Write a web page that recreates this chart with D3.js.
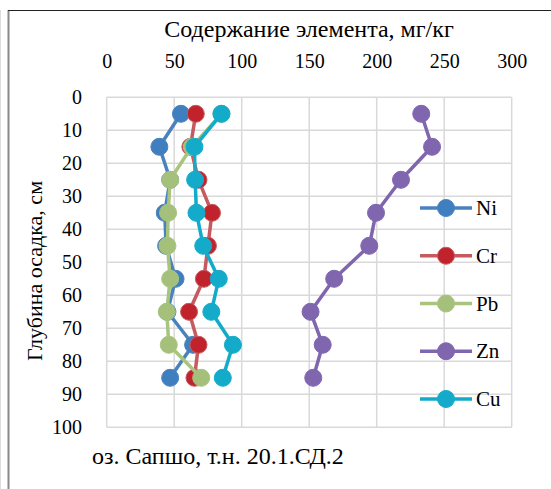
<!DOCTYPE html>
<html><head><meta charset="utf-8">
<script src="https://cdn.jsdelivr.net/npm/d3@7/dist/d3.min.js"></script>
<style>body{margin:0;background:#fff}svg{display:block}</style>
</head><body><svg id="c" width="551" height="489"></svg>
<script>
const depths = [5, 15, 25, 35, 45, 55, 65, 75, 85];
const seriesNames = ["Ni", "Cr", "Pb", "Zn", "Cu"];
const ni = [55, 39, 47, 43, 44, 51, 45, 64, 47];
const cr = [66, 62, 68, 78, 75, 72, 61, 68, 65];
const pb = [85, 63, 47, 45.5, 45, 47, 44.5, 46, 70];
const zn = [233, 241, 218, 199.5, 194.5, 168.5, 151, 160, 153];
const cu = [85, 65, 65.5, 66.5, 71.5, 83, 77.5, 93.5, 86];
const xTicks = [0, 50, 100, 150, 200, 250, 300];
const yTicks = [0, 10, 20, 30, 40, 50, 60, 70, 80, 90, 100];
const colors = ["#3f7fbf", "#c0232c", "#a5c07a", "#8066ae", "#13abc9"];
const lineColors = ["#4a82be", "#c55a5f", "#a9c47f", "#8066ae", "#13abc9"];

const FONT = "'Liberation Serif', 'Times New Roman', Tinos, 'DejaVu Serif', serif";
const svg = d3.select("#c").style("font-family", FONT);
const L = 106.7, R = 511.7, T = 97.3, B = 427.3;
const x = d3.scaleLinear().domain([0, 300]).range([L, R]);
const y = d3.scaleLinear().domain([0, 100]).range([T, B]);

// outer frame
svg.append("line").attr("x1", 0.5).attr("x2", 0.5).attr("y1", 10).attr("y2", 489).attr("stroke", "#ddd").attr("stroke-width", 1);
svg.append("line").attr("x1", 8.5).attr("x2", 8.5).attr("y1", 10).attr("y2", 489).attr("stroke", "#8a8a8a").attr("stroke-width", 2);
svg.append("line").attr("x1", 8).attr("x2", 551).attr("y1", 10.5).attr("y2", 10.5).attr("stroke", "#222").attr("stroke-width", 1);

// grid
const g = svg.append("g");
g.selectAll(".vg").data(xTicks).join("line")
  .attr("x1", d => x(d)).attr("x2", d => x(d)).attr("y1", T).attr("y2", B)
  .attr("stroke", "#d9d9d9").attr("stroke-width", 1.5);
g.selectAll(".hg").data(yTicks).join("line")
  .attr("x1", L).attr("x2", R).attr("y1", d => y(d)).attr("y2", d => y(d))
  .attr("stroke", "#d9d9d9").attr("stroke-width", 1.5);

// axes labels
const xAxis = d3.axisTop(x).tickValues(xTicks).tickSize(0).tickPadding(0);
const xa = svg.append("g").attr("transform", `translate(0,68)`).call(xAxis)
  .attr("font-family", FONT).attr("font-size", 20);
xa.select(".domain").remove();
xa.selectAll("text").attr("fill", "#000").attr("dy", 0);

const yAxis = d3.axisLeft(y).tickValues(yTicks).tickSize(0).tickPadding(0);
const ya = svg.append("g").attr("transform", `translate(82,0)`).call(yAxis)
  .attr("font-family", FONT).attr("font-size", 20);
ya.select(".domain").remove();
ya.selectAll("text").attr("fill", "#000").attr("dy", "0.33em");

svg.append("text").attr("x", 309).attr("y", 37).attr("text-anchor", "middle").attr("font-size", 24).attr("font-family", FONT).text("Содержание элемента, мг/кг");
svg.append("text").attr("transform", "translate(42,271) rotate(-90)").attr("text-anchor", "middle").attr("font-size", 22).attr("font-family", FONT).text("Глубина осадка, см");
svg.append("text").attr("x", 92).attr("y", 464).attr("font-size", 24).attr("font-family", FONT).text("оз. Сапшо, т.н. 20.1.СД.2");

// series
const data = [ni, cr, pb, zn, cu];
const line = d3.line().x(d => x(d.v)).y(d => y(d.d));
data.forEach((vals, i) => {
  const pts = vals.map((v, j) => ({v, d: depths[j]}));
  const sg = svg.append("g");
  sg.append("path").attr("d", line(pts)).attr("fill", "none").attr("stroke", lineColors[i]).attr("stroke-width", 3.5).attr("stroke-linejoin", "round");
  sg.selectAll("circle").data(pts).join("circle")
    .attr("cx", d => x(d.v)).attr("cy", d => y(d.d)).attr("r", 8.5)
    .attr("fill", colors[i]).attr("stroke", lineColors[i]).attr("stroke-width", 1);
});

// legend
const ly = d3.scalePoint().domain(seriesNames).range([208, 399]);
const lg = svg.append("g");
seriesNames.forEach((n, i) => {
  const yy = ly(n);
  lg.append("line").attr("x1", 420).attr("x2", 472).attr("y1", yy).attr("y2", yy).attr("stroke", lineColors[i]).attr("stroke-width", 3.5);
  lg.append("circle").attr("cx", 446).attr("cy", yy).attr("r", 8.5).attr("fill", colors[i]).attr("stroke", lineColors[i]).attr("stroke-width", 1);
  lg.append("text").attr("x", 476).attr("y", yy + 7).attr("font-size", 21).attr("font-family", FONT).text(n);
});
</script></body></html>
